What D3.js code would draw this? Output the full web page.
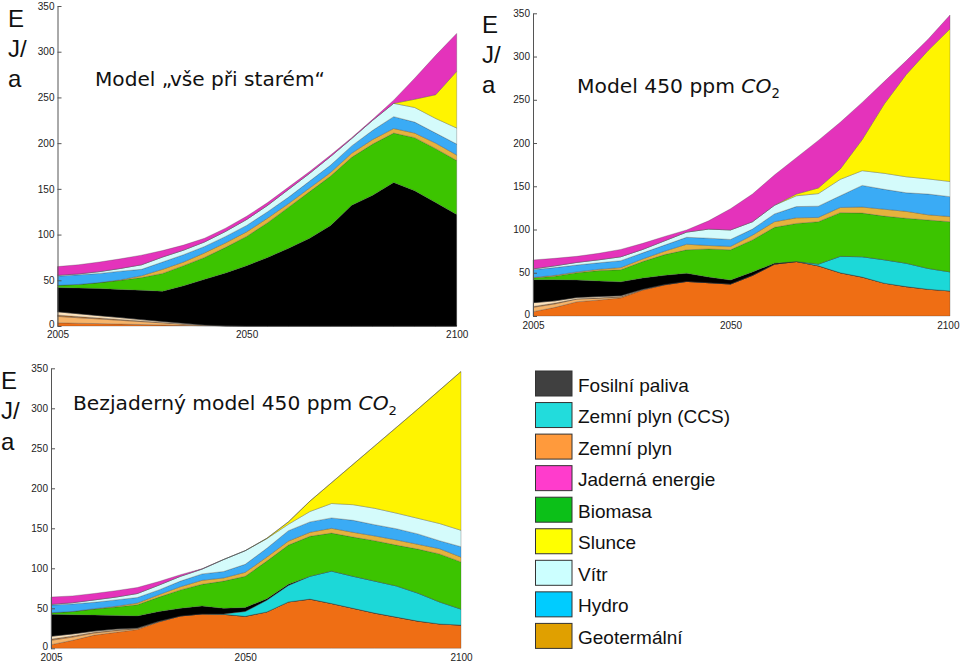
<!DOCTYPE html>
<html>
<head>
<meta charset="utf-8">
<script src="https://cdn.jsdelivr.net/npm/d3@7/dist/d3.min.js"></script>
<style>
  html, body { margin: 0; padding: 0; background: #ffffff; }
  svg { display: block; }
</style>
</head>
<body>
<svg id="chart" width="960" height="661"></svg>
<script>
// ---------------- DATA ----------------
const years = [2005,2010,2015,2020,2025,2030,2035,2040,2045,2050,2055,2060,2065,2070,2075,2080,2085,2090,2095,2100];
const yTicks = [0,50,100,150,200,250,300,350];
const xTickLabels = [2005,2050,2100];

// stacking order, bottom to top
const seriesKeys = ["gas","oil","oilEdge","coal","gasCCS","fossil","biomass","geothermal","hydro","wind","solar","nuclear"];

// Model „vše při starém" (EJ/a)
const bauValues = [
  [3.5,3.0,2.6,2.1,1.6,1.2,0.7,0.3,0.1,0,0,0,0,0,0,0,0,0,0,0],
  [7,6,5.1,4.1,3.2,2.2,1.3,0.5,0.1,0,0,0,0,0,0,0,0,0,0,0],
  [1.5,1.3,1.1,0.9,0.7,0.5,0.3,0.1,0,0,0,0,0,0,0,0,0,0,0,0],
  [3.5,3.1,2.5,2.1,1.5,1.1,0.7,0.3,0.1,0,0,0,0,0,0,0,0,0,0,0],
  [0,0,0,0,0,0,0,0,0,0,0,0,0,0,0,0,0,0,0,0],
  [26.5,28.1,29.7,30.8,32,33,41,49.8,57.7,66,75,85,96,110,132,143,157,148,135,122],
  [2.5,4,6.5,10,14,19.5,22,24,28,32,38,45,51,54,52.5,56,54,58,59,59],
  [0,0,0,0.5,2,4.5,4,5,5,5,5,4,4,4,4.5,5,5,5,6,6],
  [10,10.5,10,9.5,7,8,8,7,7,7,7,7,7.5,8,8,10,13,12,11,12],
  [1,1,2,3,5,5.5,5,5,5.5,6.5,7,8.5,8.5,9.5,8,11,14.5,16,16,17.5],
  [0,0,0,0,0,0,0,0,0,0,0,0,0,0,0,0,0,9,26,62],
  [9.5,10,10.5,10.5,10.5,7,5.5,4,3.5,3.5,3,2.5,2,1.5,1,1,3.5,23,43,41.5]
];

// Model 450 ppm CO2
const ppm450Values = [
  [5,10,16.5,18.5,21,30,36,40,38.5,37,47,60,63,58,50,45,38,34,31,29],
  [5,4,3,2,1,0.5,0.2,0,0,0,0,0,0,0,0,0,0,0,0,0],
  [1,1,0.5,0.5,0.5,0.2,0.1,0,0,0,0,0,0,0,0,0,0,0,0,0],
  [4.4,2.5,1.5,1.5,1,0.3,0.2,0,0,0,0,0,0,0,0,0,0,0,0,0],
  [0,0,0,0,0,0,0,0,0,0,0,0,0,2,19,23.5,27,27,24,22],
  [26.6,24.5,20,18,16,13,10.5,9.5,6.5,4.5,4,1,0,0,0,0,0,0,0,0],
  [2,4,8.5,12,14,19,24,27,32.5,35,37,41.5,44,49,50.5,50.5,50.5,52,56,58],
  [0.5,1,1,1.5,2.5,3,4,6.5,4,4,5.5,6.5,6.5,5,6,7,8,8,6,6],
  [9,9,8,7.5,8,7,7,8,8.5,8,7,9,13,13,13.5,25,23,21.5,24,23],
  [1,2,3,3.5,4.5,4,5,6,10.5,11,8.5,10,12.5,14.5,19,17,18.5,18.5,17.5,17.5],
  [0,0,0,0,0,0,0,0,0,0,0,0,2,6.5,12,36,80,118,148.5,176.5],
  [10.3,8.7,7,7.5,8.5,7,5,2.5,9.5,24.5,32,35,42,55,54,43,26,16,13,16]
];

// Bezjaderný model 450 ppm CO2
const noNuclearValues = [
  [4.5,10,16.5,20,23.5,33,40.5,43,42.5,40,45.5,58,61.5,56,50,44,39,34,30.5,29],
  [5.5,4,2.5,2,1,0.3,0,0,0,0,0,0,0,0,0,0,0,0,0,0],
  [1.5,1.5,1,1,0.5,0.2,0,0,0,0,0,0,0,0,0,0,0,0,0,0],
  [3.5,2.5,1.5,1,0.5,0.2,0,0,0,0,0,0,0,0,0,0,0,0,0,0],
  [0,0,0,0,0,0,0,0,0.5,6,14.5,20.5,28.5,40.5,40,40,39,35,27.5,20],
  [27.5,24,20,17,15,12.3,9.5,10,7,5,2,1.5,0,0,0,0,0,0,0,0],
  [2,4,7.5,10.5,14,18,23,27,34,39,47,49,50,47.5,49,50.5,51,55,60,59],
  [0,0,0.5,1,2,3,4,5,4,5,5,5,5,6,6,6,6.5,6,6.5,6],
  [9.5,9.5,8,8,7,6,7,8,8,10,11,13,13,13,15,14,14,13,10,13],
  [1,1.5,3,3.5,5,6,6,6,15,17,12,8,13,18,19.5,20.5,19.5,19.5,21.5,20.5],
  [0,0,0,0,0,0,0,0,0,0,0.5,3,13,26,50.5,78,107,136.5,166.5,198.5],
  [9,8.5,8,8,7.5,4.5,2,0.5,0,0,0,0,0,0,0,0,0,0,0,0]
];

const legendLabels = ["Fosilní paliva","Zemní plyn (CCS)","Zemní plyn","Jaderná energie","Biomasa","Slunce","Vítr","Hydro","Geotermální"];
const yLabelLines = ["E","J/","a"];

// ---------------- STYLE ----------------
const layerColors = {
  gas:"#ef6e14", oil:"#f6b46a", oilEdge:"#b8702e", coal:"#fde3bd", gasCCS:"#1cd8d8",
  fossil:"#000000", biomass:"#3cc400", geothermal:"#e6b23e", hydro:"#3aabf5",
  wind:"#d4fbfb", solar:"#fff400", nuclear:"#e433bb"
};
const legendColors = ["#404040","#22dcdc","#ff9a3c","#ff3ccc","#0cc018","#ffff00","#ccffff","#00ccff","#e0a000"];

const panels = [
  { values: bauValues, x0: 57.5, x1: 456.7, yb: 326, yt: 6, xLabY: 338,
    yLab: {x: 8, y: [27, 57, 87]},
    title: {parts: [{t: "Model \u201Evše při starém\u201C"}], x: 95, y: 86, w: 230} },
  { values: ppm450Values, x0: 533, x1: 950, yb: 316, yt: 13.3, xLabY: 328.5,
    yLab: {x: 482, y: [33, 63, 93]},
    title: {parts: [{t: "Model 450 ppm "}, {t: "CO", it: true}, {t: "2", sub: true}], x: 577, y: 93, w: 203} },
  { values: noNuclearValues, x0: 51, x1: 461, yb: 648.3, yt: 368.3, xLabY: 660.5,
    yLab: {x: 1, y: [389, 419, 450]},
    title: {parts: [{t: "Bezjaderný model 450 ppm "}, {t: "CO", it: true}, {t: "2", sub: true}], x: 73, y: 410, w: 324} }
];

const svg = d3.select("#chart");
const tickFont = "'Liberation Sans', Arial, sans-serif";

panels.forEach(p => {
  const x = d3.scaleLinear().domain([2005, 2100]).range([p.x0, p.x1]);
  const y = d3.scaleLinear().domain([0, 350]).range([p.yb, p.yt]);
  const rows = years.map((yr, i) => {
    const r = {year: yr};
    seriesKeys.forEach((k, j) => r[k] = p.values[j][i]);
    return r;
  });
  const stacked = d3.stack().keys(seriesKeys)(rows);
  const area = d3.area()
    .x(d => x(d.data.year))
    .y0(d => y(d[0]))
    .y1(d => y(d[1]));

  const g = svg.append("g");
  g.selectAll("path.layer").data(stacked).join("path")
    .attr("class", "layer")
    .attr("d", area)
    .attr("fill", d => layerColors[d.key])
    .attr("stroke", "#3a3a3a")
    .attr("stroke-width", 0.5)
    .attr("stroke-opacity", 0.55);

  // y axis
  const yAxis = d3.axisLeft(y).tickValues(yTicks).tickSizeInner(-4).tickSizeOuter(0).tickPadding(3);
  const ya = g.append("g").attr("transform", `translate(${p.x0},0)`).call(yAxis);
  ya.select(".domain").attr("stroke", "#555");
  ya.selectAll(".tick line").attr("stroke", "#555");
  ya.selectAll("text").attr("font-family", tickFont).attr("font-size", 10).attr("fill", "#222");
  ya.selectAll(".tick").filter(d => d === 0).select("text").attr("dy", "0.1em");

  // x labels
  const xAxis = d3.axisBottom(x).tickValues(xTickLabels).tickFormat(d3.format("d")).tickSize(0).tickPadding(0);
  const xa = g.append("g").attr("transform", `translate(0,${p.xLabY - 7.1})`).call(xAxis);
  xa.select(".domain").remove();
  xa.selectAll("text").attr("font-family", tickFont).attr("font-size", 10).attr("fill", "#222");
  xa.selectAll(".tick text").each(function(d) {
    const bb = this.getBBox();
    const absRight = x(d) + bb.width / 2;
    if (absRight > 959) d3.select(this).attr("text-anchor", "end").attr("x", 959 - x(d));
  });

  // unit label
  yLabelLines.forEach((s, i) => {
    g.append("text").attr("x", p.yLab.x).attr("y", p.yLab.y[i])
      .attr("font-family", tickFont).attr("font-size", 24).attr("fill", "#111").text(s);
  });

  // title
  const t = g.append("text").attr("x", p.title.x).attr("y", p.title.y)
    .attr("font-family", "'DejaVu Sans', sans-serif").attr("font-size", 22).attr("fill", "#111");
  p.title.parts.forEach(part => {
    const ts = t.append("tspan").text(part.t);
    if (part.it) ts.attr("font-style", "italic");
    if (part.sub) ts.attr("font-size", "0.65em").attr("dy", "0.35em");
  });
  const bw = t.node().getBBox().width;
  t.attr("font-size", 22 * p.title.w / bw);
});

// legend
const lg = svg.append("g");
legendLabels.forEach((lab, i) => {
  const y0 = 371 + i * 31.55;
  lg.append("rect").attr("x", 535.5).attr("y", y0).attr("width", 36.5).attr("height", 25)
    .attr("fill", legendColors[i]).attr("stroke", "#333").attr("stroke-width", 1);
  lg.append("text").attr("x", 578).attr("y", y0 + 20.5)
    .attr("font-family", tickFont).attr("font-size", 19).attr("fill", "#111").text(lab);
});
</script>
</body>
</html>
